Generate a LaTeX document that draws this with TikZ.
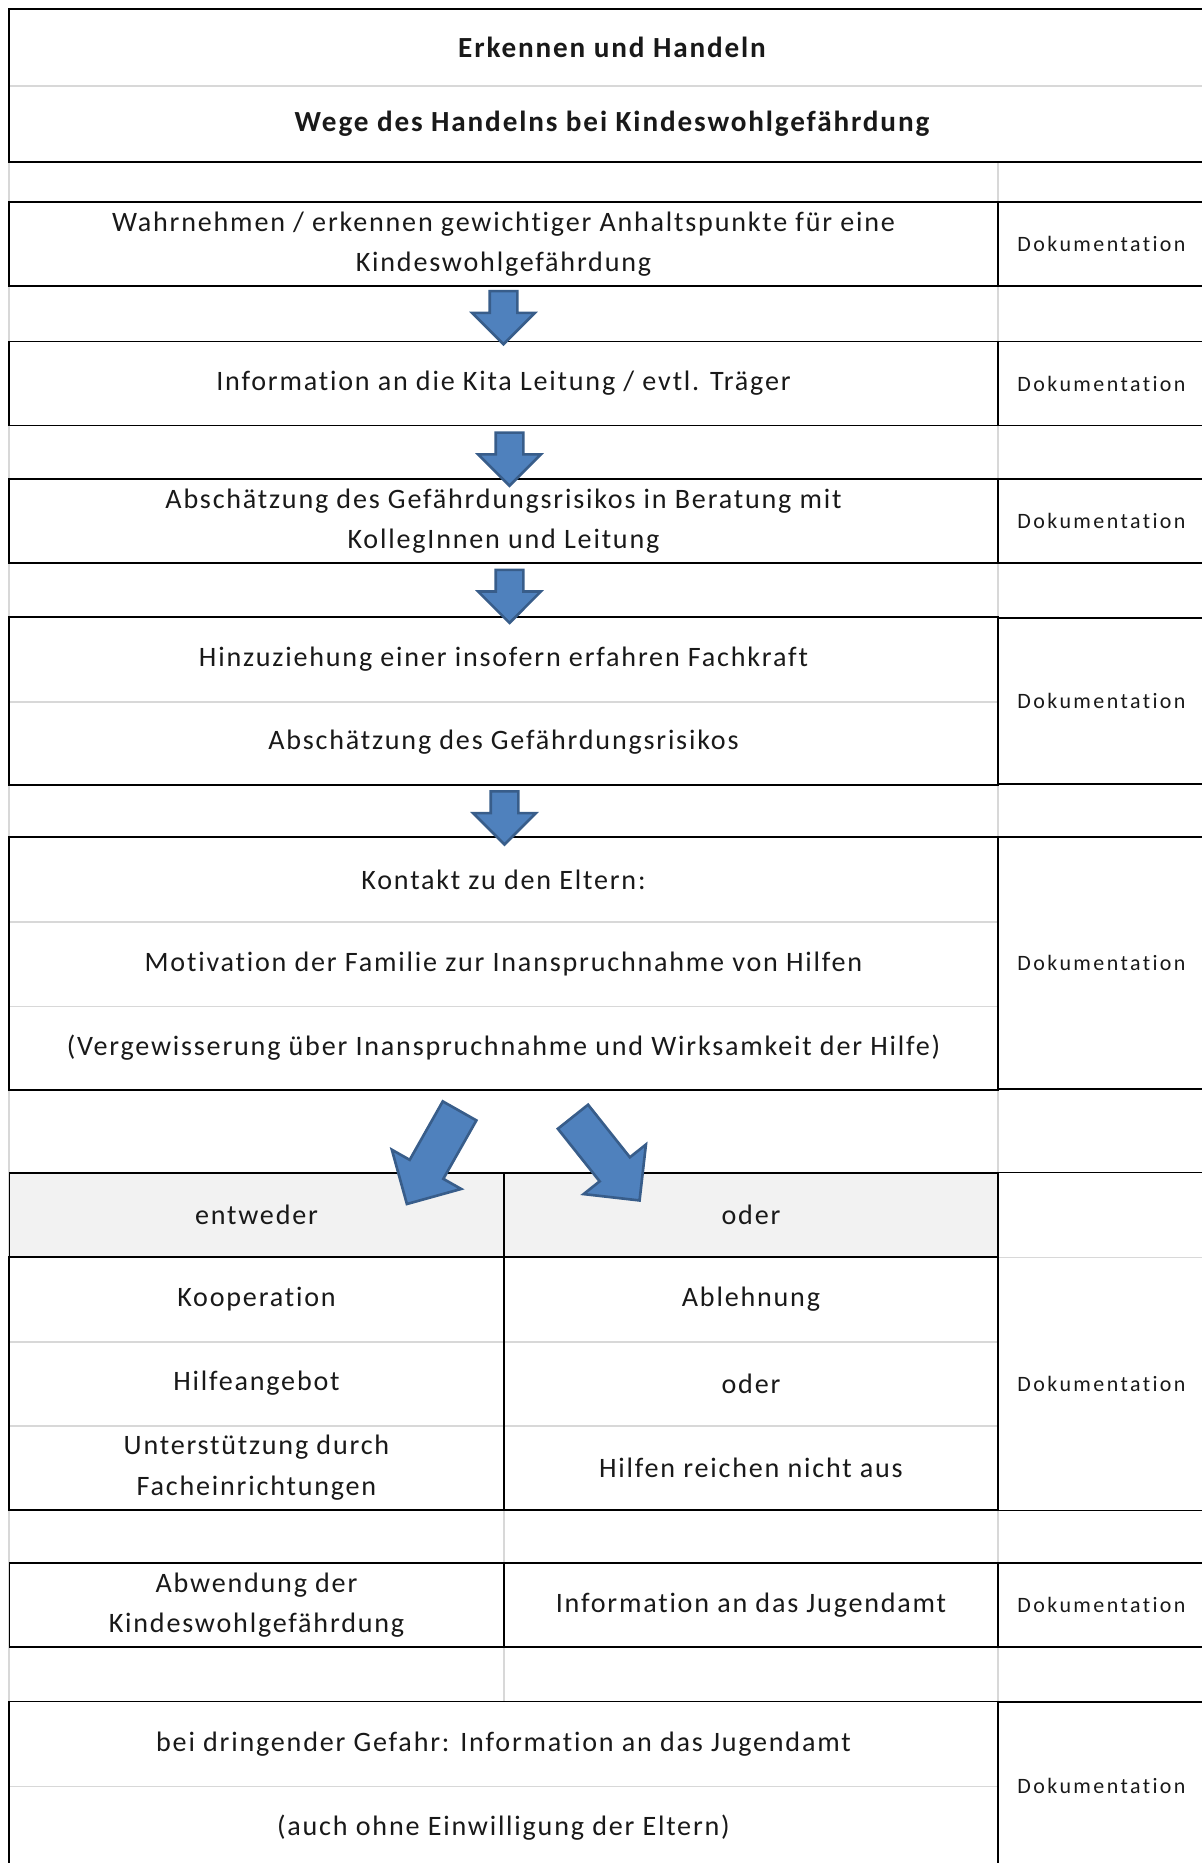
\documentclass[tikz,border=0pt]{standalone}
\usepackage{fontspec}
\setmainfont{Carlito}
\newfontfamily\cellfont{Carlito}[LetterSpace=6.4, Ligatures=NoCommon]
\newfontfamily\docfont{Carlito}[LetterSpace=11, Ligatures=NoCommon]
\usetikzlibrary{shapes.arrows,calc,positioning}
\definecolor{arrowblue}{RGB}{79,129,189}
\definecolor{arrowedge}{RGB}{56,93,138}
\definecolor{headgray}{RGB}{242,242,242}
\definecolor{gridgray}{RGB}{216,216,216}
\definecolor{inktext}{RGB}{25,25,25}

\begin{document}
\begin{tikzpicture}[x=0.02cm, y=-0.02cm,
  cell/.style={inner sep=0pt, minimum height=1.68cm, align=center, text=inktext,
    font=\fontsize{16}{23}\selectfont\cellfont},
  mainbox/.style={cell, minimum width=19.78cm},
  halfbox/.style={cell, minimum width=9.89cm},
  docbox/.style={cell, minimum width=4.14cm, font=\fontsize{12.5}{15}\selectfont\docfont},
  titlebox/.style={cell, minimum width=24.12cm, minimum height=1.52cm,
    font=\fontsize{16.6}{19}\selectfont\cellfont\bfseries},
  boxline/.style={draw=black, line width=0.9pt},
  gridline/.style={draw=gridgray, line width=0.8pt},
  blockarrow/.style={single arrow, draw=arrowedge, fill=arrowblue, line width=1.5pt,
    inner xsep=0pt, inner ysep=0.25cm, single arrow head extend=0.35cm, minimum height=1.06cm},
  slantarrow/.style={blockarrow, inner ysep=0.36cm, single arrow head extend=0.41cm,
    minimum height=2.14cm}
]
\useasboundingbox (0,0) rectangle (1202,1863);

% sheet grid
\draw[gridline] (9,161.5) -- (9,1863);
\draw[gridline] (998,161.5) -- (998,1863);
\draw[gridline] (504,1510) -- (504,1563) (504,1647) -- (504,1702);
\fill[headgray] (9,1173) rectangle (998,1257);

% title
\node[titlebox] (t1) at (612,47.5) {Erkennen und Handeln};
\node[titlebox] (t2) at (612,123.5) {Wege des Handelns bei Kindeswohlgefährdung};
\draw[gridline] (t1.south west) -- (t1.south east);
\draw[boxline, line width=1.4pt] (t1.north west) rectangle (t2.south east);

% steps
\node[mainbox, boxline] (r1) at (503.5,244) {Wahrnehmen / erkennen gewichtiger Anhaltspunkte für eine\\Kindeswohlgefährdung};
\node[docbox, boxline] (d1) at (1101.5,244) {Dokumentation};

\node[mainbox, boxline] (r2) at (503.5,383.5) {Information an die Kita Leitung / evtl. Träger};
\node[docbox, boxline] (d2) at (1101.5,383.5) {Dokumentation};

\node[mainbox, boxline] (r3) at (503.5,521) {Abschätzung des Gefährdungsrisikos in Beratung mit\\KollegInnen und Leitung};
\node[docbox, boxline] (d3) at (1101.5,521) {Dokumentation};

\node[mainbox] (r4a) at (503.5,659.5) {Hinzuziehung einer insofern erfahren Fachkraft};
\node[mainbox] (r4b) at (503.5,742.5) {Abschätzung des Gefährdungsrisikos};
\draw[gridline] (r4a.south west) -- (r4a.south east);
\draw[boxline] (r4a.north west) rectangle (r4b.south east);
\node[docbox, boxline, minimum height=3.32cm] (d4) at (1101.5,701) {Dokumentation};

\node[mainbox] (r5a) at (503.5,879.5) {Kontakt zu den Eltern:};
\node[mainbox] (r5b) at (503.5,964) {Motivation der Familie zur Inanspruchnahme von Hilfen};
\node[mainbox] (r5c) at (503.5,1047.5) {(Vergewisserung über Inanspruchnahme und Wirksamkeit der Hilfe)};
\draw[gridline] (r5a.south west) -- (r5a.south east) (r5b.south west) -- (r5b.south east);
\draw[boxline] (r5a.north west) rectangle (r5c.south east);
\node[docbox, boxline, minimum height=5.04cm] (d5) at (1101.5,963) {Dokumentation};

% either / or
\node[halfbox, boxline] (e1) at (256.5,1215) {entweder};
\node[halfbox, boxline] (e2) at (751,1215) {oder};
\node[docbox] (d6) at (1101.5,1215) {};

\node[halfbox] (k1) at (256.5,1299.5) {Kooperation};
\node[halfbox] (k2) at (256.5,1383.5) {Hilfeangebot};
\node[halfbox] (k3) at (256.5,1467.5) {Unterstützung durch\\Facheinrichtungen};
\node[halfbox] (n1) at (751,1299.5) {Ablehnung};
\node[halfbox] (n2) at (751,1383.5) {oder};
\node[halfbox] (n3) at (751,1467.5) {Hilfen reichen nicht aus};
\node[docbox, minimum height=5.06cm] (d7) at (1101.5,1383.5) {Dokumentation};
\draw[gridline] (k1.south west) -- (n1.south east) (k2.south west) -- (n2.south east)
  (d6.south west) -- (d6.south east);
\draw[boxline] (k1.north west) rectangle (k3.south east);
\draw[boxline] (n1.north west) rectangle (n3.south east);
\draw[boxline] (d6.north west) rectangle (d7.south east);

\node[halfbox, boxline] (w1) at (256.5,1605) {Abwendung der\\Kindeswohlgefährdung};
\node[halfbox, boxline] (w2) at (751,1605) {Information an das Jugendamt};
\node[docbox, boxline] (d8) at (1101.5,1605) {Dokumentation};

\node[mainbox] (g1) at (503.5,1744) {bei dringender Gefahr: Information an das Jugendamt};
\node[mainbox] (g2) at (503.5,1828) {(auch ohne Einwilligung der Eltern)};
\draw[gridline] (g1.south west) -- (g1.south east);
\draw[boxline] (g1.north west) rectangle (g2.south east);
\node[docbox, boxline, minimum height=3.36cm] (d9) at (1101.5,1786) {Dokumentation};

% block arrows
\node[blockarrow, rotate=-90] (a1) at ($(r1.south)!0.5!(r2.north)+(0,-3)$) {};
\node[blockarrow, rotate=-90] (a2) at ($(r2.south)!0.5!(r3.north)+(6,0)$) {};
\node[blockarrow, rotate=-90] (a3) at ($(r3.south)!0.5!(r4a.north)+(6,-1)$) {};
\node[blockarrow, rotate=-90] (a4) at ($(r4b.south)!0.5!(r5a.north)+(1,0)$) {};
\node[slantarrow, rotate=240.5] (a5) at ($(r5c.south)!0.5!(e1.north east)+(-66,18)$) {};
\node[slantarrow, rotate=-51.5] (a6) at ($(r5c.south)!0.5!(e2.north west)+(97,20)$) {};
\end{tikzpicture}
\end{document}
